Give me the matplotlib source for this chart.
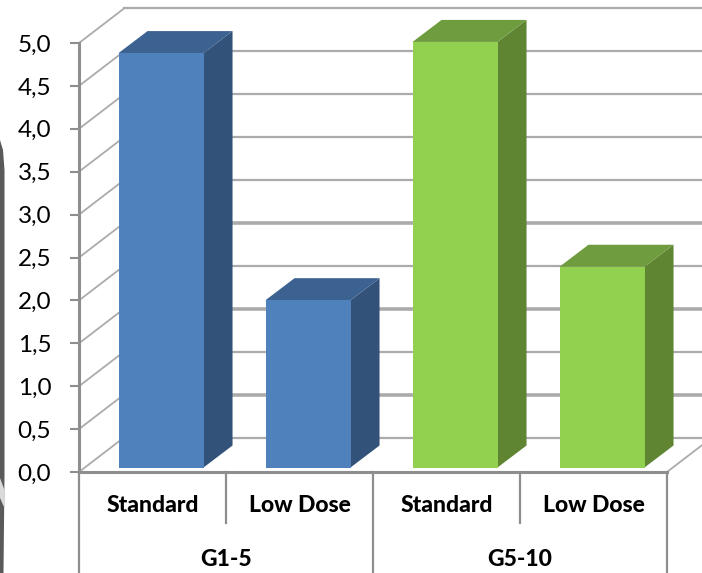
import matplotlib
matplotlib.use("Agg")
import matplotlib.pyplot as plt
from matplotlib.patches import Polygon, Rectangle

plt.rcParams['font.family'] = ['Lato', 'DejaVu Sans']

groups = ["G1-5", "G5-10"]
categories = ["Standard", "Low Dose", "Standard", "Low Dose"]
values = [4.83, 1.95, 4.96, 2.34]
yticks = [0.0, 0.5, 1.0, 1.5, 2.0, 2.5, 3.0, 3.5, 4.0, 4.5, 5.0]
ylabels = ["0,0", "0,5", "1,0", "1,5", "2,0", "2,5", "3,0", "3,5", "4,0", "4,5", "5,0"]
fronts = ["#4F81BD", "#4F81BD", "#92D050", "#92D050"]
sides = ["#32527A", "#32527A", "#5F8533", "#5F8533"]
tops = ["#3C6292", "#3C6292", "#6F9C3E", "#6F9C3E"]

W, H = 702, 573
L, R, T, B = 79, 667, 43, 472
fig = plt.figure(figsize=(W / 100, H / 100), dpi=100)
ax = fig.add_axes([L / W, 1 - B / H, (R - L) / W, (B - T) / H])
ax.set_xlim(0, 4)
ax.set_ylim(0, 5)
ax.patch.set_visible(False)
sx = (R - L) / 4
sy = (B - T) / 5
DX, DY = 45 / sx, 34.5 / sy      # wall depth
BAR_W = 85 / sx
BDX, BDY = 29 / sx, 22 / sy      # bar depth
OFX, OFY = 0.058, 4.5 / sy       # bar front offset
GRID = "#ABABAB"
AXC = "#8E8E8E"

# left-edge background fragment
bg = fig.add_axes([0, 0, 14 / W, 1 - 140 / H])
bg.set_xlim(0, 14)
bg.set_ylim(433, 0)
bg.axis("off")
bg.add_patch(Polygon([(0, 0), (3, 10), (4.5, 30), (4.5, 335), (3.5, 433), (0, 433)],
                     closed=True, fc="#5A5A5A", ec="none"))
bg.add_patch(Polygon([(0, 338), (4.5, 350), (4.5, 368), (0, 358)],
                     closed=True, fc="#DADADA", ec="none"))

# walls
for v in yticks:
    ax.plot([0, DX], [v, v + DY], color=GRID, lw=1.3, clip_on=False, zorder=1)
    ax.plot([DX, 4 + DX], [v + DY, v + DY], color=GRID,
            lw=2.6 if v in (0.5, 1.5, 2.5) else 1.6, clip_on=False, zorder=1)
ax.plot([4, 4 + DX], [0, DY], color=GRID, lw=1.3, clip_on=False, zorder=1)

# bars
for i, (v, f, s, t) in enumerate(zip(values, fronts, sides, tops)):
    x0 = i + 0.5 - BAR_W / 2 + OFX
    x1 = x0 + BAR_W
    y0 = OFY
    y1 = OFY + v
    ax.add_patch(Polygon([(x1, y0), (x1 + BDX, y0 + BDY), (x1 + BDX, y1 + BDY), (x1, y1)],
                         closed=True, fc=s, ec="none", zorder=3, clip_on=False))
    ax.add_patch(Polygon([(x0, y1), (x0 + BDX, y1 + BDY), (x1 + BDX, y1 + BDY), (x1, y1)],
                         closed=True, fc=t, ec="none", zorder=3, clip_on=False))
    ax.add_patch(Rectangle((x0, y0), BAR_W, v, fc=f, ec="none", zorder=4, clip_on=False))

# axes
for s in ("top", "right"):
    ax.spines[s].set_visible(False)
for s in ("left", "bottom"):
    ax.spines[s].set_color(AXC)
    ax.spines[s].set_linewidth(2.2)
ax.set_yticks(yticks)
ax.set_yticklabels(ylabels, fontsize=17.5, color="black")
ax.tick_params(axis="y", length=6.5, width=1.5, color=AXC, pad=13.5)
ax.set_xticks([])

# multi-level category axis
trans = ax.get_xaxis_transform()
to_y = lambda px: (B - px) / (B - T)
for x, bottom in [(0, 573), (1, 523), (2, 573), (3, 523), (4, 573)]:
    ax.plot([x, x], [0, to_y(bottom)], transform=trans, color=AXC, lw=1.6, clip_on=False, zorder=2)
for i, c in enumerate(categories):
    ax.text(i + 0.5, to_y(506), c, transform=trans, ha="center", va="center",
            fontsize=16.5, fontweight=900, color="black")
for i, g in enumerate(groups):
    ax.text(2 * i + 1, to_y(559), g, transform=trans, ha="center", va="center",
            fontsize=16.5, fontweight=900, color="black")

fig.savefig("out.png", dpi=100)
